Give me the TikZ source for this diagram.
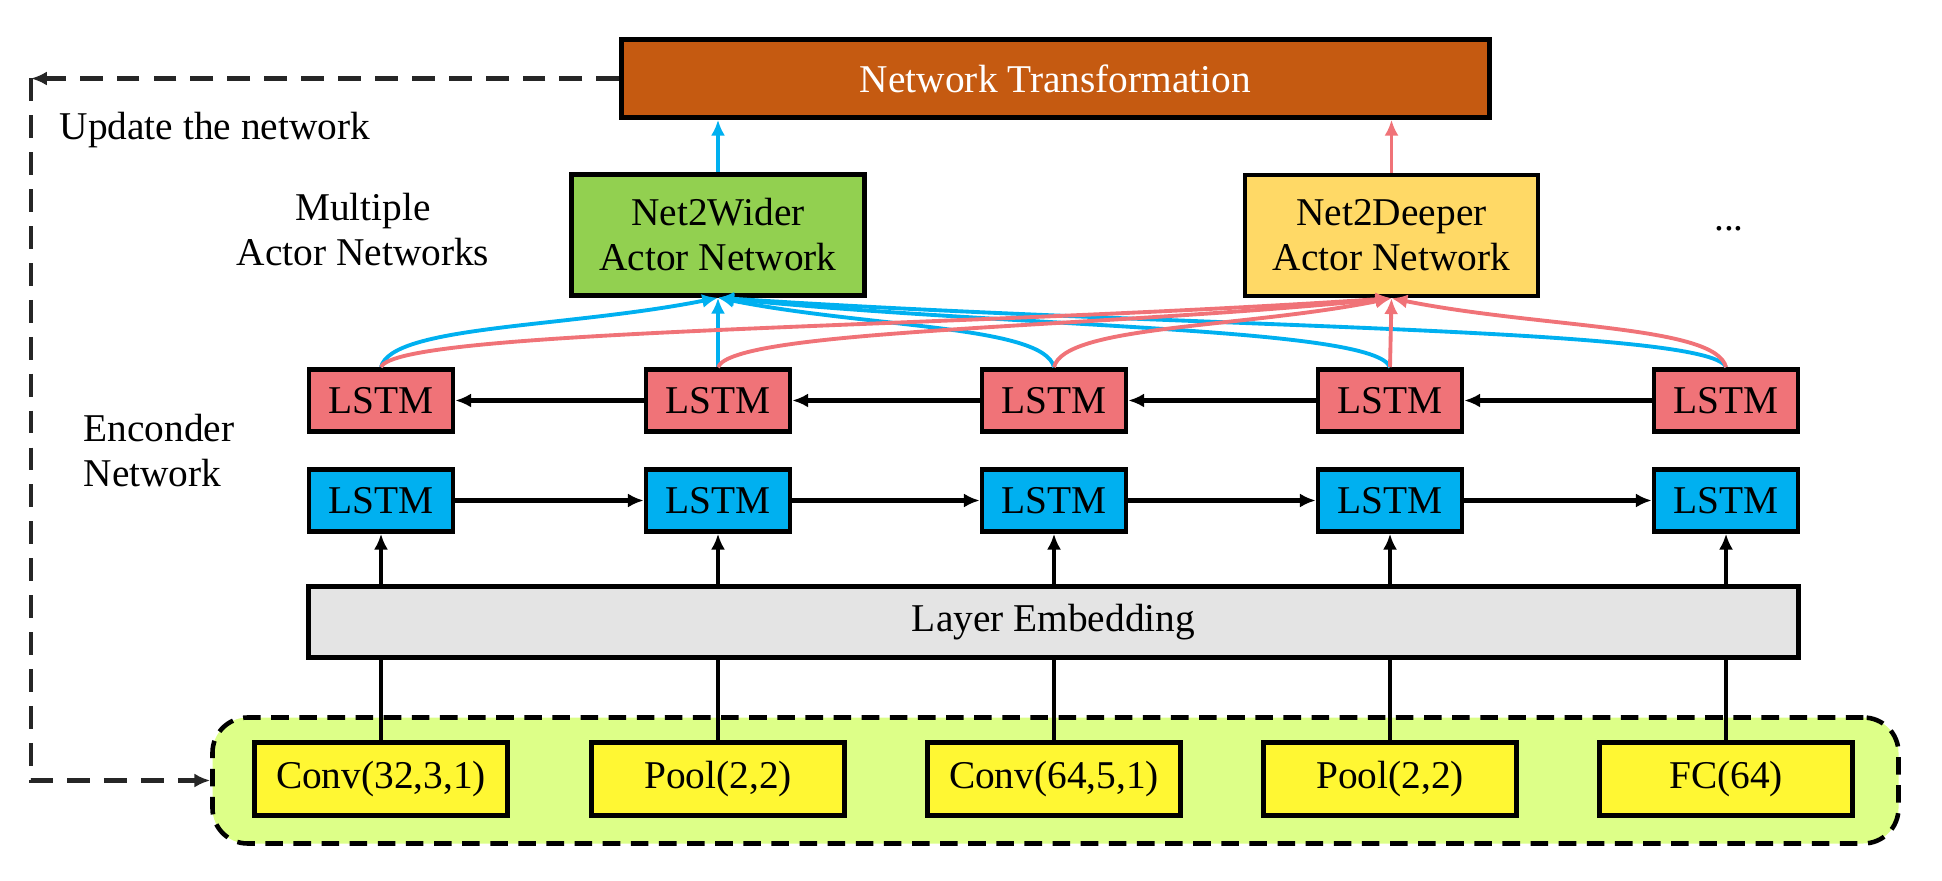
\documentclass[tikz,border=0pt]{standalone}
\usepackage{fontspec}
\setmainfont{Liberation Serif}
\usetikzlibrary{arrows.meta, positioning}

\definecolor{transbrown}{HTML}{C55A11}
\definecolor{widergreen}{HTML}{92D050}
\definecolor{deepergold}{HTML}{FFD966}
\definecolor{lstmpink}{HTML}{F07378}
\definecolor{lstmblue}{HTML}{00B0F0}
\definecolor{embgray}{HTML}{E4E4E4}
\definecolor{convyellow}{HTML}{FFF733}
\definecolor{layerlime}{HTML}{DDFF88}

\begin{document}
\begin{tikzpicture}[
	>={Latex[length=4.5pt,width=4pt]},
	txt/.style={font=\fontsize{11.2}{12.8}\selectfont},
	box/.style={txt, draw, line width=1.3pt, inner sep=0pt, align=center},
	lstmbox/.style={box, minimum width=1.44cm, minimum height=0.62cm},
	actorbox/.style={box, minimum width=2.93cm, minimum height=1.21cm},
	layerbox/.style={box, fill=convyellow, minimum width=2.53cm, minimum height=0.73cm},
	flow/.style={->, line width=1.3pt},
	feed/.style={line width=1pt},
	bluelink/.style={->, draw=lstmblue, line width=1.1pt},
	pinklink/.style={->, draw=lstmpink, line width=1.1pt},
	loopline/.style={draw=black!85, line width=1.2pt, dash pattern=on 6.5pt off 4pt},
	]
	\useasboundingbox (0,0) rectangle (19.42,8.8);

	% top
	\node[box, fill=transbrown, text=white, minimum width=8.68cm, minimum height=0.78cm] (trans) at (10.555,8.015) {Network Transformation};
	\node[actorbox, fill=widergreen] (wider) at (7.18,6.45) {Net2Wider\\Actor Network};
	\node[actorbox, fill=deepergold] (deeper) at (13.915,6.445) {Net2Deeper\\Actor Network};
	\node[txt, anchor=base] (more) at (17.29,6.49) {...};

	% labels
	\node[txt, inner sep=0pt, anchor=west] (upd) at (0.59,7.50) {Update the network};
	\node[txt, align=center] (multi) at (3.63,6.505) {Multiple\\Actor Networks};
	\node[txt, inner sep=0pt, align=left, anchor=west] (enc) at (0.83,4.29) {Enconder\\Network};

	% encoder
	\node[lstmbox, fill=lstmpink] (p1) at (3.81,4.795) {LSTM};
	\node[lstmbox, fill=lstmpink] (p2) at (7.18,4.795) {LSTM};
	\node[lstmbox, fill=lstmpink] (p3) at (10.54,4.795) {LSTM};
	\node[lstmbox, fill=lstmpink] (p4) at (13.90,4.795) {LSTM};
	\node[lstmbox, fill=lstmpink] (p5) at (17.26,4.795) {LSTM};
	\node[lstmbox, fill=lstmblue] (b1) at (3.81,3.795) {LSTM};
	\node[lstmbox, fill=lstmblue] (b2) at (7.18,3.795) {LSTM};
	\node[lstmbox, fill=lstmblue] (b3) at (10.54,3.795) {LSTM};
	\node[lstmbox, fill=lstmblue] (b4) at (13.90,3.795) {LSTM};
	\node[lstmbox, fill=lstmblue] (b5) at (17.26,3.795) {LSTM};
	\node[box, fill=embgray, minimum width=14.9cm, minimum height=0.71cm] (emb) at (10.535,2.58) {Layer Embedding};

	% layers
	\node[draw, fill=layerlime, line width=1.3pt, dash pattern=on 5pt off 3pt, rounded corners=10pt,
	minimum width=16.86cm, minimum height=1.26cm] (layers) at (10.555,0.995) {};
	\node[layerbox] (c1) at (3.81,1.01) {Conv(32,3,1)};
	\node[layerbox] (c2) at (7.18,1.01) {Pool(2,2)};
	\node[layerbox] (c3) at (10.54,1.01) {Conv(64,5,1)};
	\node[layerbox] (c4) at (13.90,1.01) {Pool(2,2)};
	\node[layerbox] (c5) at (17.26,1.01) {FC(64)};

	% update loop
	\coordinate (corner) at (0.31,8.015);
	\draw[loopline, ->] (trans.west) -- (corner);
	\draw[loopline, ->] (corner) |- (layers.west);

	% layers to embedding to lstm
	\foreach \i in {1,...,5} {
		\draw[feed] (c\i.north) -- (c\i |- emb.south);
		\draw[flow] (emb.north -| b\i) -- (b\i.south);
	}
	\draw[flow] (b1.east) -- (b2.west);
	\draw[flow] (b2.east) -- (b3.west);
	\draw[flow] (b3.east) -- (b4.west);
	\draw[flow] (b4.east) -- (b5.west);
	\draw[flow] (p5.west) -- (p4.east);
	\draw[flow] (p4.west) -- (p3.east);
	\draw[flow] (p3.west) -- (p2.east);
	\draw[flow] (p2.west) -- (p1.east);

	% lstm to actors
	\draw[bluelink] (p1.north) .. controls +(0.1,0.42) and +(-1.5,-0.3) .. (wider.south);
	\draw[bluelink] (p2.north) -- (wider.south);
	\draw[bluelink] (p3.north) .. controls +(-0.1,0.42) and +(1.5,-0.3) .. (wider.south);
	\draw[bluelink] (p4.north) .. controls +(-0.15,0.4) and +(3.0,-0.3) .. (wider.south);
	\draw[bluelink] (p5.north) .. controls +(-0.15,0.4) and +(4.5,-0.3) .. (wider.south);
	\draw[pinklink] (p1.north) .. controls +(0.15,0.38) and +(-4.5,-0.3) .. (deeper.south);
	\draw[pinklink] (p2.north) .. controls +(0.15,0.38) and +(-3.0,-0.3) .. (deeper.south);
	\draw[pinklink] (p3.north) .. controls +(0.1,0.42) and +(-1.5,-0.3) .. (deeper.south);
	\draw[pinklink] (p4.north) -- (deeper.south);
	\draw[pinklink] (p5.north) .. controls +(-0.1,0.42) and +(1.5,-0.3) .. (deeper.south);

	% actors to transformation
	\draw[bluelink] (wider.north) -- (wider.north |- trans.south);
	\draw[pinklink] (deeper.north) -- (deeper.north |- trans.south);
\end{tikzpicture}
\end{document}
